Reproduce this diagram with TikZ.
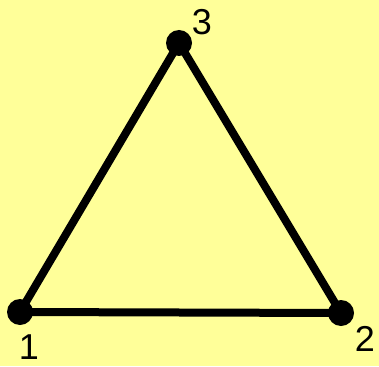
\documentclass[tikz,border=0pt]{standalone}
\usepackage{fontspec}
\setmainfont{Liberation Sans}
\definecolor{bgyellow}{HTML}{FFFF99}
\begin{document}
\begin{tikzpicture}[x=1pt,y=-1pt,
  vtx/.style={circle,fill=black,inner sep=0pt,minimum size=26pt},
  lbl/.style={inner sep=0pt,font=\fontsize{36}{40}\selectfont},
  edge/.style={line width=8pt,line join=round}]
\fill[bgyellow] (0,0) rectangle (379,366);
\useasboundingbox (0,0) rectangle (379,366);
\node[vtx] (v1) at (20,312) {};
\node[vtx] (v2) at (341,313) {};
\node[vtx] (v3) at (179,43) {};
\draw[edge] (v1.center) -- (v2.center) -- (v3.center) -- cycle;
\node[lbl] (l1) at (29,347) {1};
\node[lbl] (l2) at (365,339) {2};
\node[lbl] (l3) at (202,22) {3};
\end{tikzpicture}
\end{document}
